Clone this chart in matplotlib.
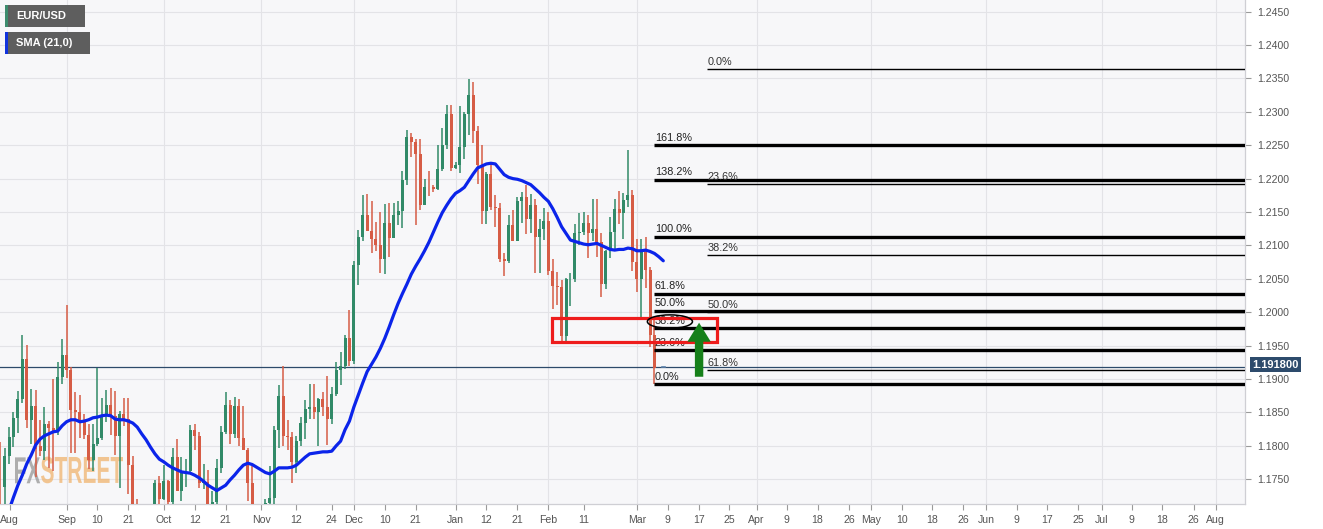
import numpy as np
import pandas as pd
import matplotlib
matplotlib.use('Agg')
import matplotlib.pyplot as plt
from matplotlib.patches import Rectangle, Ellipse, FancyArrow, PathPatch
from matplotlib.textpath import TextPath
from matplotlib.font_manager import FontProperties
from matplotlib.transforms import Affine2D

plt.rcParams['font.family'] = ['Liberation Sans', 'DejaVu Sans']

# daily EUR/USD bars, 2020-08-11 .. 2021-03-05
dates = pd.bdate_range('2020-08-11', '2021-03-05')
opens = [1.1739, 1.1738, 1.1785, 1.1813, 1.1842, 1.1870, 1.1930, 1.1838, 1.1860, 1.1800,
         1.1792, 1.1833, 1.1827, 1.1822, 1.1903, 1.1936, 1.1913, 1.1854, 1.1850, 1.1837,
         1.1816, 1.1779, 1.1802, 1.1812, 1.1845, 1.1861, 1.1845, 1.1815, 1.1848, 1.1840,
         1.1771, 1.1703, 1.1658, 1.1671, 1.1631, 1.1665, 1.1745, 1.1721, 1.1748, 1.1716,
         1.1783, 1.1733, 1.1760, 1.1762, 1.1824, 1.1814, 1.1744, 1.1746, 1.1705, 1.1716,
         1.1767, 1.1820, 1.1861, 1.1818, 1.1860, 1.1811, 1.1794, 1.1745, 1.1675, 1.1646,
         1.1641, 1.1714, 1.1722, 1.1823, 1.1875, 1.1815, 1.1813, 1.1776, 1.1807, 1.1834,
         1.1855, 1.1858, 1.1850, 1.1870, 1.1858, 1.1840, 1.1877, 1.1913, 1.1920, 1.1962,
         1.1927, 1.2071, 1.2113, 1.2145, 1.2121, 1.2109, 1.2101, 1.2079, 1.2133, 1.2111,
         1.2146, 1.2152, 1.2198, 1.2262, 1.2255, 1.2237, 1.2160, 1.2188, 1.2187, 1.2185,
         1.2214, 1.2250, 1.2297, 1.2216, 1.2220, 1.2247, 1.2296, 1.2325, 1.2271, 1.2220,
         1.2151, 1.2207, 1.2157, 1.2156, 1.2080, 1.2076, 1.2131, 1.2106, 1.2166, 1.2173,
         1.2140, 1.2160, 1.2113, 1.2124, 1.2137, 1.2062, 1.2039, 1.2038, 1.1964, 1.2049,
         1.2050, 1.2118, 1.2120, 1.2134, 1.2118, 1.2125, 1.2105, 1.2042, 1.2092, 1.2120,
         1.2154, 1.2149, 1.2168, 1.2175, 1.2075, 1.2049, 1.2091, 1.2063, 1.1966]
highs = [1.1805, 1.1797, 1.1828, 1.1851, 1.1882, 1.1966, 1.1951, 1.1885, 1.1883, 1.1838,
         1.1858, 1.1837, 1.1900, 1.1925, 1.1960, 1.2011, 1.1918, 1.1880, 1.1876, 1.1848,
         1.1833, 1.1832, 1.1917, 1.1871, 1.1883, 1.1887, 1.1882, 1.1852, 1.1872, 1.1872,
         1.1785, 1.1720, 1.1687, 1.1681, 1.1683, 1.1749, 1.1755, 1.1771, 1.1749, 1.1797,
         1.1810, 1.1784, 1.1781, 1.1831, 1.1832, 1.1821, 1.1773, 1.1764, 1.1732, 1.1781,
         1.1830, 1.1880, 1.1869, 1.1873, 1.1870, 1.1860, 1.1797, 1.1770, 1.1707, 1.1670,
         1.1721, 1.1770, 1.1830, 1.1891, 1.1920, 1.1838, 1.1820, 1.1815, 1.1843, 1.1868,
         1.1892, 1.1893, 1.1871, 1.1880, 1.1905, 1.1888, 1.1926, 1.1940, 1.1966, 1.2004,
         1.2077, 1.2123, 1.2176, 1.2177, 1.2167, 1.2135, 1.2150, 1.2162, 1.2163, 1.2163,
         1.2167, 1.2211, 1.2273, 1.2268, 1.2259, 1.2260, 1.2199, 1.2211, 1.2190, 1.2250,
         1.2276, 1.2310, 1.2310, 1.2225, 1.2309, 1.2299, 1.2349, 1.2345, 1.2279, 1.2250,
         1.2210, 1.2223, 1.2176, 1.2164, 1.2089, 1.2145, 1.2153, 1.2172, 1.2180, 1.2190,
         1.2177, 1.2170, 1.2140, 1.2156, 1.2150, 1.2079, 1.2060, 1.2048, 1.2051, 1.2059,
         1.2132, 1.2149, 1.2150, 1.2145, 1.2169, 1.2169, 1.2119, 1.2093, 1.2143, 1.2169,
         1.2181, 1.2178, 1.2243, 1.2183, 1.2110, 1.2109, 1.2113, 1.2067, 1.1990]
lows = [1.1711, 1.1712, 1.1773, 1.1798, 1.1819, 1.1864, 1.1826, 1.1802, 1.1753, 1.1785,
        1.1779, 1.1767, 1.1762, 1.1816, 1.1893, 1.1902, 1.1789, 1.1789, 1.1812, 1.1810,
        1.1766, 1.1762, 1.1800, 1.1809, 1.1836, 1.1816, 1.1787, 1.1737, 1.1830, 1.1728,
        1.1700, 1.1651, 1.1627, 1.1612, 1.1621, 1.1664, 1.1686, 1.1719, 1.1696, 1.1708,
        1.1734, 1.1718, 1.1739, 1.1761, 1.1794, 1.1737, 1.1736, 1.1688, 1.1690, 1.1700,
        1.1760, 1.1818, 1.1803, 1.1812, 1.1800, 1.1793, 1.1718, 1.1650, 1.1640, 1.1622,
        1.1630, 1.1603, 1.1710, 1.1797, 1.1800, 1.1794, 1.1745, 1.1759, 1.1800, 1.1810,
        1.1840, 1.1840, 1.1800, 1.1845, 1.1801, 1.1833, 1.1874, 1.1891, 1.1915, 1.1920,
        1.1923, 1.2040, 1.2107, 1.2127, 1.2088, 1.2092, 1.2058, 1.2057, 1.2083, 1.2111,
        1.2130, 1.2126, 1.2190, 1.2233, 1.2130, 1.2153, 1.2160, 1.2174, 1.2180, 1.2183,
        1.2212, 1.2244, 1.2212, 1.2214, 1.2208, 1.2229, 1.2266, 1.2253, 1.2192, 1.2132,
        1.2132, 1.2153, 1.2128, 1.2075, 1.2054, 1.2073, 1.2108, 1.2106, 1.2133, 1.2117,
        1.2118, 1.2058, 1.2059, 1.2108, 1.2055, 1.2005, 1.2011, 1.1952, 1.1952, 1.2010,
        1.2045, 1.2100, 1.2116, 1.2081, 1.2107, 1.2083, 1.2023, 1.2035, 1.2081, 1.2091,
        1.2132, 1.2110, 1.2157, 1.2062, 1.2030, 1.1991, 1.2037, 1.1948, 1.1893]
closes = [1.1738, 1.1785, 1.1813, 1.1842, 1.1870, 1.1930, 1.1838, 1.1860, 1.1795, 1.1792,
          1.1832, 1.1827, 1.1822, 1.1903, 1.1936, 1.1913, 1.1854, 1.1850, 1.1837, 1.1816,
          1.1779, 1.1802, 1.1812, 1.1845, 1.1861, 1.1845, 1.1815, 1.1848, 1.1840, 1.1771,
          1.1703, 1.1658, 1.1671, 1.1631, 1.1665, 1.1745, 1.1721, 1.1748, 1.1716, 1.1783,
          1.1733, 1.1760, 1.1762, 1.1824, 1.1814, 1.1744, 1.1746, 1.1705, 1.1716, 1.1767,
          1.1820, 1.1861, 1.1818, 1.1860, 1.1811, 1.1794, 1.1745, 1.1675, 1.1646, 1.1641,
          1.1714, 1.1722, 1.1823, 1.1875, 1.1815, 1.1813, 1.1776, 1.1807, 1.1834, 1.1855,
          1.1858, 1.1850, 1.1870, 1.1858, 1.1840, 1.1877, 1.1913, 1.1920, 1.1962, 1.1927,
          1.2071, 1.2113, 1.2145, 1.2121, 1.2109, 1.2101, 1.2079, 1.2133, 1.2111, 1.2146,
          1.2152, 1.2198, 1.2262, 1.2255, 1.2237, 1.2160, 1.2188, 1.2187, 1.2185, 1.2214,
          1.2250, 1.2297, 1.2216, 1.2220, 1.2247, 1.2296, 1.2325, 1.2271, 1.2220, 1.2151,
          1.2207, 1.2157, 1.2156, 1.2080, 1.2076, 1.2131, 1.2106, 1.2166, 1.2173, 1.2140,
          1.2160, 1.2113, 1.2124, 1.2137, 1.2062, 1.2039, 1.2038, 1.1964, 1.2049, 1.2050,
          1.2118, 1.2120, 1.2134, 1.2118, 1.2125, 1.2105, 1.2042, 1.2092, 1.2120, 1.2154,
          1.2149, 1.2168, 1.2175, 1.2075, 1.2049, 1.2091, 1.2063, 1.1966, 1.1917]

# SMA(21) as drawn, one value per slot (last two slots are past the final daily bar)
sma21 = [1.1659, 1.1681, 1.1704, 1.1723, 1.1741, 1.1756, 1.1773, 1.1786, 1.1801, 1.1810,
         1.1815, 1.1818, 1.1821, 1.1822, 1.1830, 1.1836, 1.1839, 1.1839, 1.1836, 1.1837,
         1.1839, 1.1842, 1.1843, 1.1845, 1.1846, 1.1845, 1.1840, 1.1839, 1.1839, 1.1837,
         1.1834, 1.1828, 1.1818, 1.1809, 1.1798, 1.1788, 1.1780, 1.1776, 1.1771, 1.1767,
         1.1764, 1.1761, 1.1760, 1.1759, 1.1756, 1.1752, 1.1747, 1.1741, 1.1737, 1.1733,
         1.1737, 1.1741, 1.1749, 1.1756, 1.1764, 1.1771, 1.1774, 1.1772, 1.1768, 1.1764,
         1.1760, 1.1758, 1.1762, 1.1767, 1.1767, 1.1767, 1.1768, 1.1771, 1.1777, 1.1783,
         1.1788, 1.1789, 1.1790, 1.1791, 1.1791, 1.1792, 1.1800, 1.1807, 1.1824, 1.1837,
         1.1858, 1.1876, 1.1894, 1.1911, 1.1922, 1.1933, 1.1946, 1.1961, 1.1978, 1.1996,
         1.2013, 1.2028, 1.2042, 1.2057, 1.2069, 1.2080, 1.2092, 1.2105, 1.2120, 1.2135,
         1.2149, 1.2160, 1.2170, 1.2178, 1.2182, 1.2187, 1.2197, 1.2207, 1.2216, 1.2219,
         1.2222, 1.2223, 1.2222, 1.2214, 1.2206, 1.2202, 1.2200, 1.2199, 1.2197, 1.2194,
         1.2191, 1.2185, 1.2179, 1.2172, 1.2166, 1.2155, 1.2142, 1.2128, 1.2118, 1.2108,
         1.2106, 1.2104, 1.2102, 1.2101, 1.2102, 1.2103, 1.2100, 1.2097, 1.2094, 1.2093,
         1.2094, 1.2094, 1.2096, 1.2095, 1.2092, 1.2092, 1.2093, 1.2091, 1.2088, 1.2083,
         1.2077]
last_price = 1.1918

fib_a_labels = ['0.0%', '23.6%', '38.2%', '50.0%', '61.8%', '100.0%', '138.2%', '161.8%']
fib_a_prices = [1.1892, 1.1943, 1.1976, 1.2002, 1.2028, 1.2113, 1.2198, 1.2250]
fib_b_labels = ['0.0%', '23.6%', '38.2%', '50.0%', '61.8%']
fib_b_prices = [1.2364, 1.2192, 1.2086, 1.2000, 1.1913]

tick_labels = ['Aug', 'Sep', '10', '21', 'Oct', '12', '21', 'Nov', '12', '24', 'Dec', '10',
               '21', 'Jan', '12', '21', 'Feb', '11', 'Mar', '9', '17', '25', 'Apr', '9',
               '18', '26', 'May', '10', '18', '26', 'Jun', '9', '17', '25', 'Jul', '9',
               '18', '26', 'Aug']
tick_pos = [2.1, 15, 22, 29, 37, 44, 51, 59, 67, 75, 80, 87, 94, 103, 110, 117, 124, 132,
            144, 151.0, 158.0, 164.9, 171.1, 177.9, 184.9, 192.0, 196.9, 204.0, 210.9,
            217.8, 223.0, 230.0, 236.9, 243.9, 249.2, 256.0, 262.9, 270.0, 275.0]
month_pos = [15, 37, 59, 80, 103, 124, 144, 171.1, 196.9, 223.0, 249.2, 275.0]

W, H = 1323, 529
up_col = '#318a68'
dn_col = '#d65c45'

fig = plt.figure(figsize=(W / 100, H / 100), dpi=100, facecolor='white')
ax = fig.add_axes([0, 25 / H, 1245 / W, 1 - 25 / H])
ax.set_facecolor('#f7f7f9')

o = np.array(opens)
h = np.array(highs)
l = np.array(lows)
c = np.array(closes)
x = np.arange(len(dates))
cols = np.where(c >= o, up_col, dn_col)

ax.vlines(x, l, h, colors=cols, lw=1.1, zorder=3)
body = np.maximum(np.abs(c - o), 0.00008)
ax.bar(x, body, bottom=np.minimum(o, c), width=0.68, color=cols, zorder=3, linewidth=0)

# current (tiny) bar after the gap
ax.plot([len(dates) + 0.7, len(dates) + 1.3], [last_price, last_price], color='#5a7fa8', lw=1.2,
        zorder=3)

ax.plot(np.arange(len(sma21)), sma21, color='#0b24ea', lw=2.3, zorder=4, solid_capstyle='round')

ax.axhline(last_price, color='#2c4a6a', lw=0.9, zorder=2)

x_end = 281.6
for lab, p in zip(fib_a_labels, fib_a_prices):
    ax.hlines(p, 147.9, x_end, color='black', lw=2.4, zorder=5)
    ax.annotate(lab, (148.1, p), xytext=(0, 1.8), textcoords='offset points', ha='left',
                va='bottom', fontsize=7.8, color='#222222', zorder=6)
for lab, p in zip(fib_b_labels, fib_b_prices):
    ax.hlines(p, 159.9, x_end, color='black', lw=1.0, zorder=5)
    ax.annotate(lab, (160.0, p), xytext=(0, 1.5), textcoords='offset points', ha='left',
                va='bottom', fontsize=7.8, color='#333333', zorder=6)

ax.add_patch(Rectangle((124.9, 1.1955), 37.2, 0.00367, fill=False, ec='#ee1c1c', lw=2.3,
                       zorder=7))
ax.add_patch(Ellipse((151.5, 1.1986), 10.2, 0.0020, fill=False, ec='black', lw=1.1, zorder=7))
ax.add_patch(FancyArrow(158.1, 1.19034, 0, 0.00809, width=1.9, head_width=5.3,
                        head_length=0.00285, length_includes_head=True, color='#16801a',
                        lw=0, zorder=8))

ax.set_xlim(-0.05, x_end)
ax.set_ylim(1.17129, 1.24674)

ax.yaxis.tick_right()
ax.set_yticks(np.arange(1.175, 1.2451, 0.005))
ax.yaxis.set_major_formatter(matplotlib.ticker.FormatStrFormatter('%.4f'))
ax.set_xticks(tick_pos)
ax.set_xticklabels(tick_labels)
ax.tick_params(axis='both', colors='#9a9a9a', labelcolor='#555555', labelsize=7.6, length=4,
               width=0.8)
ax.tick_params(axis='x', pad=4)
ax.tick_params(axis='y', pad=5)

ax.grid(axis='y', color='#e3e3e7', lw=0.8, zorder=0)
for m in month_pos:
    ax.axvline(m, color='#e3e3e7', lw=0.8, zorder=0)
ax.set_axisbelow(True)

for side in ['top', 'left']:
    ax.spines[side].set_visible(False)
for side in ['right', 'bottom']:
    ax.spines[side].set_color('#cfcfd4')
    ax.spines[side].set_linewidth(0.9)

# last price tag on the price axis
ax.annotate('1.191800', xy=(1.0, last_price), xycoords=('axes fraction', 'data'),
            xytext=(5.5, 1.5), textcoords='offset points', ha='left', va='center',
            fontsize=8, fontweight='bold', color='white', zorder=9, annotation_clip=False,
            bbox=dict(boxstyle='square,pad=0.22', fc='#2d4b6c', ec='none'))

# legend chips top-left
def chip(y0, w, text, strip):
    fig.add_artist(Rectangle((5 / W, 1 - (y0 + 21.5) / H), w / W, 21.5 / H,
                             transform=fig.transFigure, fc='#5e5e5e', ec='none', zorder=10))
    fig.add_artist(Rectangle((5 / W, 1 - (y0 + 21.5) / H), 2.5 / W, 21.5 / H,
                             transform=fig.transFigure, fc=strip, ec='none', zorder=11))
    fig.text(16.5 / W, 1 - (y0 + 11) / H, text, color='white', fontsize=8, fontweight='bold',
             va='center', ha='left', zorder=12)

chip(5, 80, 'EUR/USD', '#3d8c6e')
chip(32, 85, 'SMA (21,0)', '#1133dd')

# FXSTREET watermark
fp = FontProperties(family='Liberation Sans', weight='bold')
tp_fx = TextPath((0, 0), 'FX', size=100, prop=fp)
tp_st = TextPath((0, 0), 'STREET', size=100, prop=fp)
fx_ext = tp_fx.get_extents()
st_ext = tp_st.get_extents()
total_w = fx_ext.width + 4 + st_ext.width
sx = 108 / total_w
sy = 26.7 / max(fx_ext.height, st_ext.height)
base = (15, H - 483.3)
t_fx = Affine2D().translate(-fx_ext.x0, -fx_ext.y0).scale(sx, sy).translate(*base) \
    .scale(1 / W, 1 / H) + fig.transFigure
t_st = Affine2D().translate(-st_ext.x0 + fx_ext.width + 4, -st_ext.y0).scale(sx, sy) \
    .translate(*base).scale(1 / W, 1 / H) + fig.transFigure
ax.add_patch(PathPatch(tp_fx, transform=t_fx, fc='#9c9c9c', ec='none', alpha=0.8, zorder=1))
ax.add_patch(PathPatch(tp_st, transform=t_st, fc='#f0b46e', ec='none', alpha=0.75, zorder=1))

fig.savefig('out.png', dpi=100, facecolor=fig.get_facecolor())
